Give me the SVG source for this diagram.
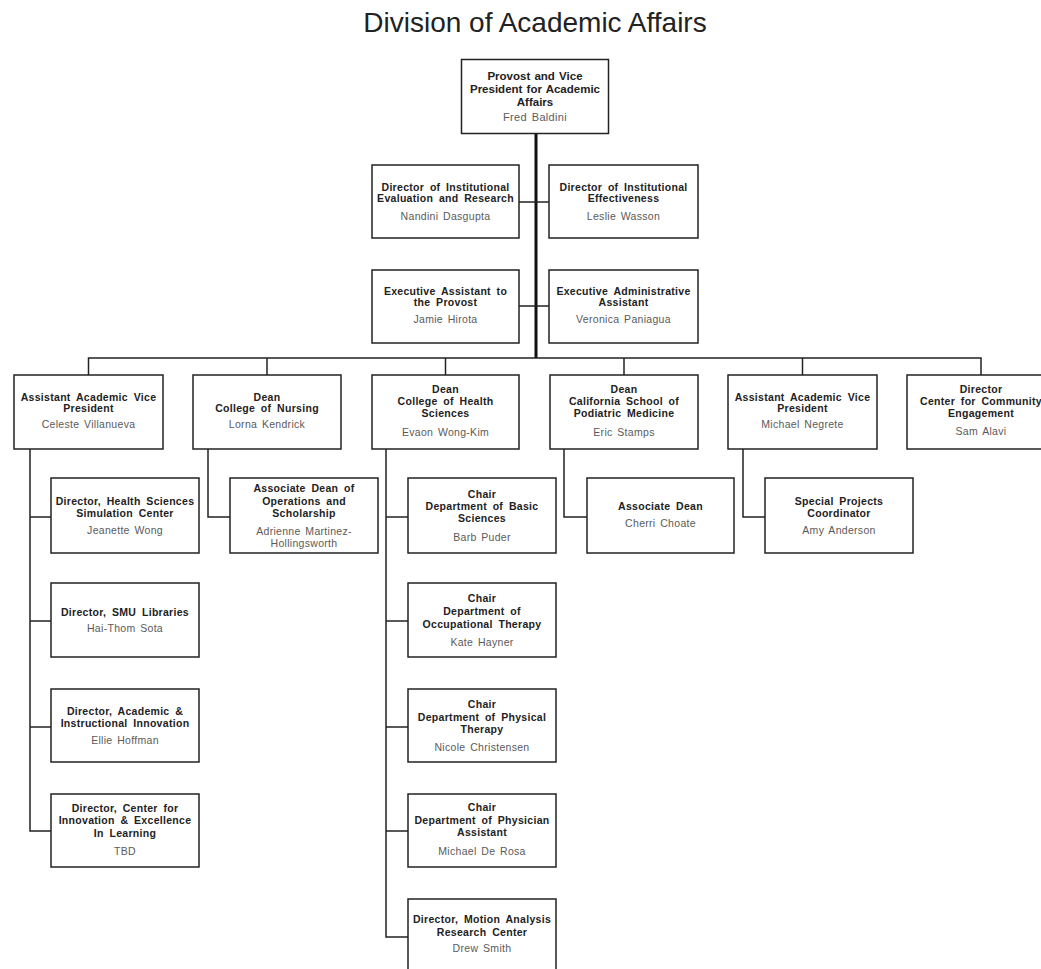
<svg xmlns="http://www.w3.org/2000/svg" width="1041" height="969" viewBox="0 0 1041 969">
<style>
.bx{fill:#fff;stroke:#222;stroke-width:1.5}
.t{font-family:"Liberation Sans",Arial,sans-serif;font-size:10.5px;font-weight:bold;fill:#222;text-anchor:middle;letter-spacing:0.3px;word-spacing:2.5px}
.n{font-family:"Liberation Sans",Arial,sans-serif;font-size:10.5px;fill:#5a5a5a;text-anchor:middle;letter-spacing:0.3px;word-spacing:1.5px}
.c{fill:none;stroke:#222;stroke-width:1.5}
.sp{fill:none;stroke:#111;stroke-width:3}
</style>
<rect width="1041" height="969" fill="#fff"/>
<text x="535" y="32" style="font-family:'Liberation Sans',Arial,sans-serif;font-size:28px;fill:#222;text-anchor:middle">Division of Academic Affairs</text>
<g id="connectors">
<line class="sp" x1="536" y1="133" x2="536" y2="358"/>
<line class="c" x1="519" y1="202" x2="549" y2="202"/>
<line class="c" x1="519" y1="306" x2="549" y2="306"/>
<polyline class="c" points="88.5,375 88.5,358 981,358 981,375"/>
<line class="c" x1="267" y1="358" x2="267" y2="375"/>
<line class="c" x1="445.5" y1="358" x2="445.5" y2="375"/>
<line class="c" x1="624" y1="358" x2="624" y2="375"/>
<line class="c" x1="802.5" y1="358" x2="802.5" y2="375"/>
<polyline class="c" points="30,449 30,831 51,831"/>
<line class="c" x1="30" y1="517" x2="51" y2="517"/>
<line class="c" x1="30" y1="621" x2="51" y2="621"/>
<line class="c" x1="30" y1="727" x2="51" y2="727"/>
<polyline class="c" points="208,449 208,517 230,517"/>
<polyline class="c" points="386,449 386,937 408,937"/>
<line class="c" x1="386" y1="517" x2="408" y2="517"/>
<line class="c" x1="386" y1="621" x2="408" y2="621"/>
<line class="c" x1="386" y1="727" x2="408" y2="727"/>
<line class="c" x1="386" y1="831" x2="408" y2="831"/>
<polyline class="c" points="564,449 564,517 587,517"/>
<polyline class="c" points="743,449 743,517 765,517"/>
</g>
<g id="provost">
<rect class="bx" x="461.5" y="59.5" width="147" height="74"/>
<text class="t" x="535" y="80" style="font-size:11.5px;letter-spacing:0;word-spacing:1px">Provost and Vice</text>
<text class="t" x="535" y="93" style="font-size:11.5px;letter-spacing:0;word-spacing:1px">President for Academic</text>
<text class="t" x="535" y="106" style="font-size:11.5px;letter-spacing:0;word-spacing:1px">Affairs</text>
<text class="n" x="535" y="121" style="font-size:11px">Fred Baldini</text>
</g>
<g id="dir-ier">
<rect class="bx" x="372" y="165" width="147" height="73"/>
<text class="t" x="445.5" y="191">Director of Institutional</text>
<text class="t" x="445.5" y="202">Evaluation and Research</text>
<text class="n" x="445.5" y="220">Nandini Dasgupta</text>
</g>
<g id="dir-ie">
<rect class="bx" x="549" y="165" width="149" height="73"/>
<text class="t" x="623.5" y="191">Director of Institutional</text>
<text class="t" x="623.5" y="202">Effectiveness</text>
<text class="n" x="623.5" y="220">Leslie Wasson</text>
</g>
<g id="exec-asst">
<rect class="bx" x="372" y="270" width="147" height="73"/>
<text class="t" x="445.5" y="295">Executive Assistant to</text>
<text class="t" x="445.5" y="306">the Provost</text>
<text class="n" x="445.5" y="323">Jamie Hirota</text>
</g>
<g id="exec-admin">
<rect class="bx" x="549" y="270" width="149" height="73"/>
<text class="t" x="623.5" y="295">Executive Administrative</text>
<text class="t" x="623.5" y="306">Assistant</text>
<text class="n" x="623.5" y="323">Veronica Paniagua</text>
</g>
<g id="aavp-1">
<rect class="bx" x="14" y="375" width="149" height="74"/>
<text class="t" x="88.5" y="400.5">Assistant Academic Vice</text>
<text class="t" x="88.5" y="411.5">President</text>
<text class="n" x="88.5" y="428">Celeste Villanueva</text>
</g>
<g id="dean-nursing">
<rect class="bx" x="193" y="375" width="148" height="74"/>
<text class="t" x="267" y="400.5">Dean</text>
<text class="t" x="267" y="411.5">College of Nursing</text>
<text class="n" x="267" y="428">Lorna Kendrick</text>
</g>
<g id="dean-chs">
<rect class="bx" x="372" y="375" width="147" height="74"/>
<text class="t" x="445.5" y="393">Dean</text>
<text class="t" x="445.5" y="405">College of Health</text>
<text class="t" x="445.5" y="417">Sciences</text>
<text class="n" x="445.5" y="435.5">Evaon Wong-Kim</text>
</g>
<g id="dean-podiatric">
<rect class="bx" x="550" y="375" width="148" height="74"/>
<text class="t" x="624" y="393">Dean</text>
<text class="t" x="624" y="405">California School of</text>
<text class="t" x="624" y="417">Podiatric Medicine</text>
<text class="n" x="624" y="435.5">Eric Stamps</text>
</g>
<g id="aavp-2">
<rect class="bx" x="728" y="375" width="149" height="74"/>
<text class="t" x="802.5" y="400.5">Assistant Academic Vice</text>
<text class="t" x="802.5" y="411.5">President</text>
<text class="n" x="802.5" y="428">Michael Negrete</text>
</g>
<g id="dir-community">
<rect class="bx" x="907" y="375" width="148" height="74"/>
<text class="t" x="981" y="393">Director</text>
<text class="t" x="981" y="405">Center for Community</text>
<text class="t" x="981" y="417">Engagement</text>
<text class="n" x="981" y="435">Sam Alavi</text>
</g>
<g id="dir-simulation">
<rect class="bx" x="51" y="478" width="148" height="75"/>
<text class="t" x="125" y="505">Director, Health Sciences</text>
<text class="t" x="125" y="517">Simulation Center</text>
<text class="n" x="125" y="534">Jeanette Wong</text>
</g>
<g id="dir-libraries">
<rect class="bx" x="51" y="583" width="148" height="74"/>
<text class="t" x="125" y="616">Director, SMU Libraries</text>
<text class="n" x="125" y="632">Hai-Thom Sota</text>
</g>
<g id="dir-innovation">
<rect class="bx" x="51" y="689" width="148" height="73"/>
<text class="t" x="125" y="715">Director, Academic &amp;</text>
<text class="t" x="125" y="727">Instructional Innovation</text>
<text class="n" x="125" y="744">Ellie Hoffman</text>
</g>
<g id="dir-excellence">
<rect class="bx" x="51" y="794" width="148" height="73"/>
<text class="t" x="125" y="812">Director, Center for</text>
<text class="t" x="125" y="824">Innovation &amp; Excellence</text>
<text class="t" x="125" y="836.5">In Learning</text>
<text class="n" x="125" y="855">TBD</text>
</g>
<g id="assoc-dean-ops">
<rect class="bx" x="230" y="478" width="148" height="75"/>
<text class="t" x="304" y="492">Associate Dean of</text>
<text class="t" x="304" y="504.5">Operations and</text>
<text class="t" x="304" y="517">Scholarship</text>
<text class="n" x="304" y="535">Adrienne Martinez-</text>
<text class="n" x="304" y="547">Hollingsworth</text>
</g>
<g id="chair-basic">
<rect class="bx" x="408" y="478" width="148" height="75"/>
<text class="t" x="482" y="498">Chair</text>
<text class="t" x="482" y="510">Department of Basic</text>
<text class="t" x="482" y="522">Sciences</text>
<text class="n" x="482" y="541">Barb Puder</text>
</g>
<g id="chair-ot">
<rect class="bx" x="408" y="583" width="148" height="74"/>
<text class="t" x="482" y="602">Chair</text>
<text class="t" x="482" y="615">Department of</text>
<text class="t" x="482" y="627.5">Occupational Therapy</text>
<text class="n" x="482" y="645.5">Kate Hayner</text>
</g>
<g id="chair-pt">
<rect class="bx" x="408" y="689" width="148" height="73"/>
<text class="t" x="482" y="708">Chair</text>
<text class="t" x="482" y="720.5">Department of Physical</text>
<text class="t" x="482" y="732.5">Therapy</text>
<text class="n" x="482" y="750.5">Nicole Christensen</text>
</g>
<g id="chair-pa">
<rect class="bx" x="408" y="794" width="148" height="73"/>
<text class="t" x="482" y="811">Chair</text>
<text class="t" x="482" y="823.5">Department of Physician</text>
<text class="t" x="482" y="836">Assistant</text>
<text class="n" x="482" y="854.5">Michael De Rosa</text>
</g>
<g id="dir-motion">
<rect class="bx" x="408" y="899" width="148" height="74"/>
<text class="t" x="482" y="923">Director, Motion Analysis</text>
<text class="t" x="482" y="935.5">Research Center</text>
<text class="n" x="482" y="952">Drew Smith</text>
</g>
<g id="assoc-dean-pod">
<rect class="bx" x="587" y="478" width="147" height="75"/>
<text class="t" x="660.5" y="510">Associate Dean</text>
<text class="n" x="660.5" y="527">Cherri Choate</text>
</g>
<g id="special-projects">
<rect class="bx" x="765" y="478" width="148" height="75"/>
<text class="t" x="839" y="505">Special Projects</text>
<text class="t" x="839" y="517">Coordinator</text>
<text class="n" x="839" y="534">Amy Anderson</text>
</g>
</svg>
